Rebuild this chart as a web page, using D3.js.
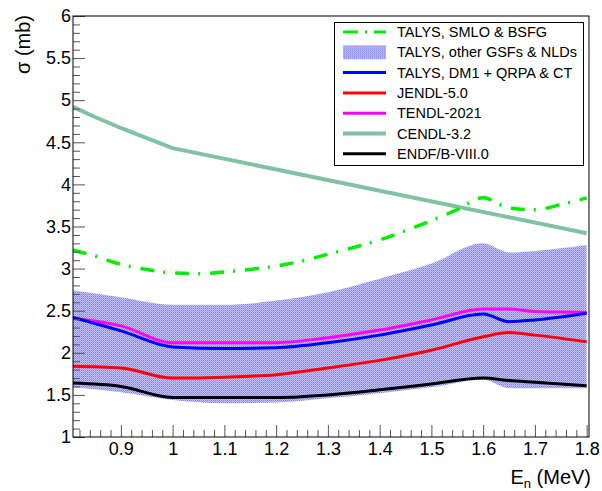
<!DOCTYPE html>
<html lang="en">
<head>
<meta charset="utf-8">
<style>
  body { margin: 0; background: #fff; }
  svg text { font-family: "Liberation Sans", Arial, sans-serif; }
</style>
</head>
<body>
<svg width="602" height="491"></svg>
<script src="https://d3js.org/d3.v7.min.js"></script>
<script>
// energies (MeV) and cross sections (mb)
var eGrid   = [0.8075, 0.9, 1.0, 1.1, 1.2, 1.3, 1.4, 1.5, 1.6, 1.65, 1.7, 1.8];
var bandHi  = [2.74, 2.66, 2.57, 2.57, 2.62, 2.72, 2.88, 3.06, 3.30, 3.19, 3.21, 3.28];
var bandLo  = [1.59, 1.53, 1.44, 1.40, 1.41, 1.46, 1.52, 1.59, 1.68, 1.58, 1.58, 1.58];
var dm1     = [2.42, 2.26, 2.07, 2.05, 2.06, 2.12, 2.21, 2.33, 2.46, 2.37, 2.39, 2.47];
var jendl   = [1.84, 1.82, 1.70, 1.71, 1.74, 1.82, 1.91, 2.03, 2.19, 2.24, 2.21, 2.13];
var tendl   = [2.41, 2.32, 2.12, 2.12, 2.12, 2.18, 2.27, 2.39, 2.52, 2.52, 2.49, 2.48];
var endf    = [1.64, 1.60, 1.47, 1.47, 1.47, 1.50, 1.56, 1.63, 1.70, 1.67, 1.65, 1.61];

var smloE   = [0.8075, 0.85, 0.9, 0.95, 1.0, 1.05, 1.1, 1.15, 1.2, 1.25, 1.3, 1.35, 1.4, 1.45, 1.5, 1.55, 1.6, 1.65, 1.7, 1.75, 1.8];
var smlo    = [3.22, 3.15, 3.05, 2.99, 2.95, 2.94, 2.96, 2.99, 3.03, 3.09, 3.17, 3.25, 3.34, 3.45, 3.57, 3.70, 3.84, 3.72, 3.70, 3.76, 3.84];

var cendlE  = [0.8075, 0.85, 0.9, 0.95, 1.0, 1.8];
var cendl   = [4.92, 4.80, 4.67, 4.55, 4.43, 3.42];

var xTicks = [0.9, 1.0, 1.1, 1.2, 1.3, 1.4, 1.5, 1.6, 1.7, 1.8];
var yTicks = [1, 1.5, 2, 2.5, 3, 3.5, 4, 4.5, 5, 5.5, 6];

var svg = d3.select("svg"),
    margin = {top: 16, right: 13, bottom: 54, left: 73},
    width = 602 - margin.left - margin.right,
    height = 491 - margin.top - margin.bottom,
    g = svg.append("g").attr("transform", "translate(" + margin.left + "," + margin.top + ")");

var x = d3.scaleLinear().domain([0.8075, 1.8045]).range([0, width]);
var y = d3.scaleLinear().domain([1, 6]).range([height, 0]);

// dotted fill like ROOT's pattern
var defs = svg.append("defs");
var pat = defs.append("pattern").attr("id", "dots")
    .attr("width", 2).attr("height", 2).attr("patternUnits", "userSpaceOnUse");
pat.append("rect").attr("width", 2).attr("height", 2).attr("fill", "#c4c4fa");
pat.append("rect").attr("width", 1).attr("height", 1).attr("fill", "#7c7cf4");
pat.append("rect").attr("x", 1).attr("y", 1).attr("width", 1).attr("height", 1).attr("fill", "#9c9cf6");

defs.append("clipPath").attr("id", "clip")
  .append("rect").attr("width", width).attr("height", height);

var plot = g.append("g").attr("clip-path", "url(#clip)");

var area = d3.area()
    .x(function(d) { return x(d.e); })
    .y0(function(d) { return y(d.lo); })
    .y1(function(d) { return y(d.hi); })
    .curve(d3.curveMonotoneX);
plot.append("path")
    .datum(eGrid.map(function(e, i) { return {e: e, lo: bandLo[i], hi: bandHi[i]}; }))
    .attr("fill", "url(#dots)")
    .attr("d", area);

function drawLine(es, vs, color, w, dash, curve) {
  var line = d3.line()
      .x(function(d) { return x(d[0]); })
      .y(function(d) { return y(d[1]); })
      .curve(curve || d3.curveMonotoneX);
  plot.append("path")
      .datum(es.map(function(e, i) { return [e, vs[i]]; }))
      .attr("fill", "none")
      .attr("stroke", color)
      .attr("stroke-width", w)
      .attr("stroke-dasharray", dash || null)
      .attr("d", line);
}

drawLine(cendlE, cendl, "#80c2a2", 4, null, d3.curveLinear);
drawLine(eGrid, endf, "#000000", 3);
drawLine(eGrid, jendl, "#ff0000", 3);
drawLine(eGrid, tendl, "#ff00ff", 3);
drawLine(eGrid, dm1, "#0000ff", 3);
drawLine(smloE, smlo, "#00ee00", 3.5, "14,9,2,10");

// axes: ticks inside the frame, ROOT style
var xAxis = d3.axisBottom(x).tickValues(xTicks).tickSize(-12).tickPadding(5)
    .tickFormat(function(d) { return d === 1 ? "1" : d3.format(".1f")(d); });
var xMinor = d3.axisBottom(x).tickValues(d3.range(0.82, 1.805, 0.02).filter(function(v) {
      return Math.abs(v * 10 - Math.round(v * 10)) > 0.01; }))
    .tickSize(-7).tickFormat("");
var yAxis = d3.axisLeft(y).tickValues(yTicks).tickSize(-12).tickPadding(2)
    .tickFormat(function(d) { return d3.format("")(d); });
var yMinor = d3.axisLeft(y).tickValues(d3.range(1.1, 6, 0.1).filter(function(v) {
      return Math.abs(v * 2 - Math.round(v * 2)) > 0.01; }))
    .tickSize(-7).tickFormat("");

[[xMinor, true], [xAxis, true], [yMinor, false], [yAxis, false]].forEach(function(a) {
  var ax = g.append("g").attr("transform", a[1] ? "translate(0," + height + ")" : null).call(a[0]);
  ax.select(".domain").remove();
  ax.selectAll("line").attr("stroke", "#555");
  ax.selectAll("text").attr("font-size", 18).attr("fill", "#000")
    .style("font-family", "'Liberation Sans', Arial, sans-serif");
});

// frame
g.append("rect").attr("width", width).attr("height", height)
    .attr("fill", "none").attr("stroke", "#000").attr("stroke-width", 1);

// axis titles
var xt = svg.append("text").attr("x", 591).attr("y", 484).attr("text-anchor", "end")
    .attr("font-size", 20);
xt.append("tspan").text("E");
xt.append("tspan").attr("font-size", 13).attr("dy", 4).text("n");
xt.append("tspan").attr("dy", -4).text(" (MeV)");

svg.append("text").attr("transform", "translate(30,15) rotate(-90)")
    .attr("text-anchor", "end").attr("font-size", 20).text("σ (mb)");

// legend
var names = ["TALYS, SMLO & BSFG", "TALYS, other GSFs & NLDs", "TALYS, DM1 + QRPA & CT",
             "JENDL-5.0", "TENDL-2021", "CENDL-3.2", "ENDF/B-VIII.0"];
var legColors = ["#00ee00", "band", "#0000ff", "#ff0000", "#ff00ff", "#80c2a2", "#000000"];

var leg = svg.append("g");
leg.append("rect").attr("x", 334.5).attr("y", 22.5).attr("width", 249).attr("height", 143)
    .attr("fill", "#fff").attr("stroke", "#000");
var items = leg.selectAll("g.item").data(names).enter().append("g")
    .attr("transform", function(d, i) { return "translate(0," + (32 + i * 20.3) + ")"; });
items.each(function(d, i) {
  var it = d3.select(this);
  if (legColors[i] === "band") {
    it.append("rect").attr("x", 343).attr("y", -7).attr("width", 43).attr("height", 14)
      .attr("fill", "url(#dots)");
  } else {
    it.append("line").attr("x1", 343).attr("x2", 386)
      .attr("stroke", legColors[i]).attr("stroke-width", i === 5 ? 4 : 3)
      .attr("stroke-dasharray", i === 0 ? "15,7,2,7" : null);
  }
  it.append("text").attr("x", 397).attr("dy", "0.35em").attr("font-size", 14.5).text(d);
});
</script>
</body>
</html>
